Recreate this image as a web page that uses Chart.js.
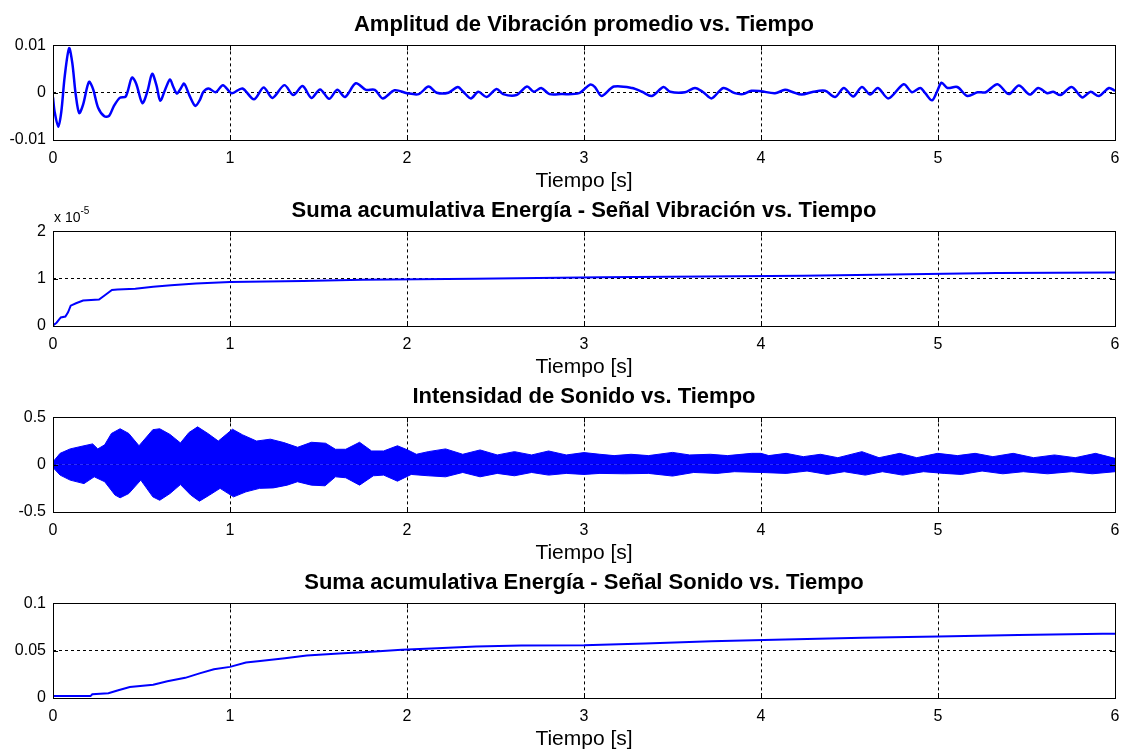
<!DOCTYPE html>
<html>
<head>
<meta charset="utf-8">
<script src="https://cdn.jsdelivr.net/npm/chart.js@4"></script>
<style>
  html, body { margin: 0; padding: 0; background: #fff; overflow: hidden; }
  body { width: 1122px; height: 749px; position: relative; }
  .panel { position: absolute; left: 0; width: 1122px; height: 200px; }
</style>
</head>
<body>
<div class="panel" style="top:0px"><canvas id="chart1" width="1122" height="200"></canvas></div>
<div class="panel" style="top:186px"><canvas id="chart2" width="1122" height="200"></canvas></div>
<div class="panel" style="top:372px"><canvas id="chart3" width="1122" height="200"></canvas></div>
<div class="panel" style="top:558px"><canvas id="chart4" width="1122" height="200"></canvas></div>
<script>
Chart.defaults.font.family = "'Liberation Sans', Arial, sans-serif";
Chart.defaults.color = '#000';

// x axis (all panels)
const xTicks = [0, 1, 2, 3, 4, 5, 6];

// 1 - amplitud de vibracion promedio
const vibTime = [
  0, 0.009, 0.03, 0.047, 0.066, 0.091, 0.109, 0.128, 0.148, 0.17, 0.203, 0.226, 0.255, 0.29, 0.317,
  0.343, 0.377, 0.411, 0.446, 0.47, 0.505, 0.535, 0.56, 0.585, 0.606, 0.635, 0.661, 0.68, 0.70, 0.72,
  0.741, 0.77, 0.804, 0.83, 0.85, 0.879, 0.919, 0.96, 1.01, 1.07, 1.135, 1.19, 1.24, 1.307, 1.358,
  1.41, 1.46, 1.509, 1.56, 1.606, 1.65, 1.711, 1.768, 1.818, 1.863, 1.93, 2.0, 2.066, 2.122, 2.168,
  2.234, 2.287, 2.318, 2.361, 2.403, 2.45, 2.506, 2.543, 2.618, 2.678, 2.717, 2.758, 2.805, 2.87,
  2.972, 3.034, 3.062, 3.099, 3.169, 3.272, 3.328, 3.384, 3.449, 3.487, 3.571, 3.627, 3.674, 3.721,
  3.787, 3.852, 3.899, 3.946, 4.0, 4.079, 4.136, 4.174, 4.23, 4.296, 4.362, 4.419, 4.468, 4.521,
  4.57, 4.617, 4.66, 4.72, 4.806, 4.853, 4.9, 4.928, 4.966, 4.994, 5.02, 5.053, 5.109, 5.166, 5.223,
  5.27, 5.336, 5.4, 5.457, 5.519, 5.566, 5.617, 5.651, 5.692, 5.755, 5.815, 5.862, 5.909, 5.966, 6.0
];
const vibAmp = [
  -0.001, -0.004, -0.0072, -0.004, 0.0034, 0.0094, 0.0063, -0.0003, -0.0043, -0.0025, 0.0023, 0.0008, -0.0032, -0.005, -0.0049,
  -0.0029, -0.0011, -0.0008, 0.0032, 0.0019, -0.0022, 0.0005, 0.004, 0.0015, -0.0017, 0.0008, 0.0028, 0.0012, -0.0002, 0.0008,
  0.0019, -0.0005, -0.0028, -0.0015, 0.0002, 0.0009, 0.0001, 0.0016, -0.0001, 0.0009, -0.0014, 0.0011, -0.0011, 0.0016, -0.0005,
  0.0014, -0.0011, 0.0007, -0.0013, 0.0006, -0.0009, 0.002, 0.0006, 0.0006, -0.0012, 0.0005, -0.0001, -0.0003, 0.0013, 0,
  0, 0.0012, 0.0002, -0.0012, 0.0002, -0.0009, 0.0008, -0.0003, -0.0005, 0.0013, 0.0002, 0.001, -0.0003, -0.0003,
  -0.0001, 0.0017, 0.0012, -0.0007, 0.0013, 0.001, 0.0002, -0.0007, 0.0012, 0.0002, 0.0001, 0.001, 0.0001, -0.0012,
  0.001, -0.0001, -0.0003, 0.0004, 0.0003, -0.0001, 0.0006, 0.0002, -0.0004, 0.0002, 0.0004, -0.0009, 0.001, -0.0008,
  0.0012, -0.0004, 0.001, -0.0012, 0.0018, 0.0001, 0.001, -0.0001, -0.0016, 0.0002, 0.0021, 0.001, 0.0012, -0.0007, 0.0001,
  0.0001, 0.0018, -0.0003, 0.0015, -0.0004, 0.001, -0.0001, 0.0002, -0.0005, 0.0012, -0.001, 0.0002, -0.0007, 0.001, 0.0004
];
const vibTicks = [-0.01, 0, 0.01];

// 2 - suma acumulativa energia, senal vibracion
const vibEnergyTime = [0, 0.02, 0.044, 0.07, 0.085, 0.1, 0.13, 0.17, 0.26, 0.293, 0.333, 0.364, 0.465, 0.566,
  0.667, 0.808, 1.0, 1.414, 1.747, 2.384, 3.097, 4.24, 4.94, 5.33, 6.0];
const vibEnergy = [0.01e-5, 0.07e-5, 0.18e-5, 0.2e-5, 0.29e-5, 0.43e-5, 0.48e-5, 0.54e-5, 0.56e-5, 0.65e-5, 0.76e-5,
  0.77e-5, 0.79e-5, 0.83e-5, 0.86e-5, 0.9e-5, 0.93e-5, 0.95e-5, 0.98e-5, 1.0e-5, 1.03e-5, 1.06e-5, 1.1e-5, 1.12e-5, 1.13e-5];
const vibEnergyTicks = [0, 1e-5, 2e-5];

// 3 - intensidad de sonido (envolvente superior e inferior)
const soundUpperTime = [0, 0.04, 0.097, 0.175, 0.224, 0.253, 0.292, 0.33, 0.379, 0.428, 0.486, 0.564, 0.603, 0.661,
  0.72, 0.768, 0.817, 0.875, 0.934, 1.014, 1.072, 1.15, 1.228, 1.304, 1.382, 1.46, 1.54, 1.596, 1.654, 1.732, 1.8,
  1.868, 1.946, 2.004, 2.053, 2.12, 2.218, 2.315, 2.413, 2.51, 2.607, 2.704, 2.8, 2.9, 3.0, 3.09, 3.17, 3.266, 3.364,
  3.5, 3.597, 3.714, 3.811, 3.947, 4.0, 4.044, 4.142, 4.239, 4.336, 4.434, 4.57, 4.667, 4.784, 4.88, 4.998, 5.11,
  5.21, 5.31, 5.425, 5.54, 5.658, 5.775, 5.89, 6.0];
const soundUpper = [0.03, 0.12, 0.167, 0.2, 0.22, 0.167, 0.21, 0.33, 0.38, 0.33, 0.2, 0.37, 0.38, 0.32,
  0.23, 0.34, 0.4, 0.33, 0.25, 0.375, 0.315, 0.25, 0.27, 0.234, 0.184, 0.237, 0.227, 0.163, 0.163, 0.237, 0.145,
  0.145, 0.2, 0.156, 0.11, 0.138, 0.167, 0.11, 0.156, 0.103, 0.138, 0.103, 0.145, 0.103, 0.128, 0.11, 0.096, 0.11, 0.096,
  0.13, 0.103, 0.11, 0.096, 0.12, 0.12, 0.096, 0.12, 0.085, 0.11, 0.074, 0.138, 0.074, 0.12, 0.074, 0.12, 0.096,
  0.12, 0.085, 0.12, 0.074, 0.103, 0.074, 0.12, 0.067];
const soundLowerTime = [0, 0.04, 0.097, 0.175, 0.233, 0.292, 0.35, 0.379, 0.428, 0.496, 0.564, 0.603, 0.661, 0.72,
  0.778, 0.827, 0.885, 0.944, 1.02, 1.09, 1.167, 1.245, 1.323, 1.381, 1.46, 1.537, 1.596, 1.654, 1.732, 1.81, 1.868,
  1.946, 2.024, 2.12, 2.218, 2.315, 2.413, 2.51, 2.607, 2.704, 2.8, 2.9, 3.0, 3.09, 3.23, 3.364, 3.5, 3.62, 3.75,
  3.85, 4.0, 4.142, 4.26, 4.375, 4.47, 4.589, 4.686, 4.8, 4.918, 5.035, 5.132, 5.249, 5.366, 5.482, 5.619, 5.755,
  5.872, 6.0];
const soundLower = [-0.03, -0.11, -0.163, -0.2, -0.128, -0.18, -0.32, -0.35, -0.305, -0.163, -0.34, -0.376, -0.305, -0.21,
  -0.32, -0.386, -0.32, -0.25, -0.34, -0.287, -0.25, -0.245, -0.216, -0.18, -0.216, -0.223, -0.128, -0.138, -0.216, -0.117, -0.11,
  -0.174, -0.103, -0.117, -0.128, -0.082, -0.128, -0.092, -0.117, -0.082, -0.11, -0.092, -0.103, -0.092, -0.096, -0.092, -0.12, -0.082, -0.092,
  -0.074, -0.082, -0.092, -0.067, -0.103, -0.074, -0.11, -0.074, -0.11, -0.074, -0.092, -0.103, -0.067, -0.096, -0.074, -0.096, -0.074,
  -0.096, -0.074];
const soundTicks = [-0.5, 0, 0.5];

// 4 - suma acumulativa energia, senal sonido
const soundEnergyTime = [0, 0.212, 0.222, 0.313, 0.364, 0.434, 0.566, 0.646, 0.747, 0.828, 0.909, 1.0, 1.09, 1.17,
  1.31, 1.434, 1.616, 1.798, 1.97, 2.17, 2.39, 2.646, 3.0, 3.345, 3.72, 4.136, 4.572, 5.0, 5.454, 5.93, 6.0];
const soundEnergy = [0.002, 0.002, 0.004, 0.005, 0.008, 0.0116, 0.014, 0.0177, 0.0213, 0.026, 0.0303, 0.0329, 0.0375, 0.039,
  0.042, 0.0448, 0.047, 0.049, 0.051, 0.0527, 0.0545, 0.0555, 0.0558, 0.0576, 0.06, 0.0618, 0.0636, 0.065, 0.0665, 0.068, 0.068];
const soundEnergyTicks = [0, 0.05, 0.1];

const BLUE = '#0000ff';

function points(xs, ys) {
  return xs.map((x, i) => ({ x: x, y: ys[i] }));
}

// caja estilo matlab: borde, marcas hacia dentro y exponente del eje y
const matlabBox = {
  id: 'matlabBox',
  afterDraw(chart, args, opts) {
    const { ctx, chartArea: a, scales } = chart;
    ctx.save();
    ctx.strokeStyle = '#000';
    ctx.lineWidth = 1;
    ctx.beginPath();
    scales.x.ticks.forEach(t => {
      const px = Math.round(scales.x.getPixelForValue(t.value)) + 0.5;
      ctx.moveTo(px, a.bottom); ctx.lineTo(px, a.bottom - 5);
      ctx.moveTo(px, a.top); ctx.lineTo(px, a.top + 5);
    });
    scales.y.ticks.forEach(t => {
      const py = Math.round(scales.y.getPixelForValue(t.value)) + 0.5;
      ctx.moveTo(a.left, py); ctx.lineTo(a.left + 5, py);
      ctx.moveTo(a.right, py); ctx.lineTo(a.right - 5, py);
    });
    ctx.stroke();
    ctx.strokeRect(Math.round(a.left) + 0.5, Math.round(a.top) + 0.5, Math.round(a.width), Math.round(a.height));
    if (opts.exponent) {
      ctx.fillStyle = '#000';
      ctx.textBaseline = 'alphabetic';
      ctx.textAlign = 'left';
      ctx.font = "14px 'Liberation Sans', Arial, sans-serif";
      const base = 'x 10';
      ctx.fillText(base, a.left + 1, a.top - 9);
      const w = ctx.measureText(base).width;
      ctx.font = "10px 'Liberation Sans', Arial, sans-serif";
      ctx.fillText(opts.exponent, a.left + 1 + w, a.top - 17);
    }
    ctx.restore();
  }
};

function gridColor(c) {
  const s = c.scale;
  const eps = (s.max - s.min) * 1e-6;
  if (Math.abs(c.tick.value - s.min) < eps || Math.abs(c.tick.value - s.max) < eps) return 'rgba(0,0,0,0)';
  return '#000';
}

function makeChart(id, title, datasets, yTicks, yFormat, exponent) {
  const ctx = document.getElementById(id).getContext('2d');
  return new Chart(ctx, {
    type: 'line',
    data: { datasets: datasets },
    plugins: [matlabBox],
    options: {
      responsive: false,
      animation: false,
      layout: { padding: { left: 0, right: 2, top: 0, bottom: 6 } },
      elements: { point: { radius: 0 }, line: { tension: 0 } },
      scales: {
        x: {
          type: 'linear',
          min: xTicks[0],
          max: xTicks[xTicks.length - 1],
          afterBuildTicks: (scale) => { scale.ticks = xTicks.map(v => ({ value: v })); },
          afterFit: (scale) => { scale.height = 54; scale.paddingRight = 7; },
          ticks: { font: { size: 16 }, padding: 9, maxRotation: 0, callback: v => String(v) },
          grid: { color: gridColor, lineWidth: 1, drawTicks: false },
          border: { display: false, dash: [3, 3] },
          title: { display: true, text: 'Tiempo [s]', font: { size: 21 }, padding: { top: 0, bottom: 0 } }
        },
        y: {
          min: yTicks[0],
          max: yTicks[yTicks.length - 1],
          afterBuildTicks: (scale) => { scale.ticks = yTicks.map(v => ({ value: v })); },
          afterFit: (scale) => { scale.width = 53; },
          ticks: { font: { size: 16 }, padding: 7, callback: yFormat },
          grid: { color: gridColor, lineWidth: 1, drawTicks: false },
          border: { display: false, dash: [3, 3] }
        }
      },
      plugins: {
        legend: { display: false },
        tooltip: { enabled: false },
        matlabBox: { exponent: exponent },
        title: {
          display: true,
          fullSize: false,
          text: title,
          color: '#000',
          font: { size: 22, weight: 'bold' },
          padding: { top: 12, bottom: 7 }
        }
      }
    }
  });
}

const fmt = v => String(Number(v.toFixed(6)));

const chart1 = makeChart('chart1', 'Amplitud de Vibración promedio vs. Tiempo', [{
  data: points(vibTime, vibAmp),
  borderColor: BLUE,
  borderWidth: 2.5,
  tension: 0.3,
  fill: false
}], vibTicks, fmt);

const chart2 = makeChart('chart2', 'Suma acumulativa Energía - Señal Vibración vs. Tiempo', [{
  data: points(vibEnergyTime, vibEnergy),
  borderColor: BLUE,
  borderWidth: 2,
  fill: false
}], vibEnergyTicks, v => String(Math.round(v / 1e-5)), '-5');

const chart3 = makeChart('chart3', 'Intensidad de Sonido vs. Tiempo', [{
  data: points(soundUpperTime, soundUpper),
  borderColor: BLUE,
  backgroundColor: BLUE,
  borderWidth: 1,
  fill: 'origin'
}, {
  data: points(soundLowerTime, soundLower),
  borderColor: BLUE,
  backgroundColor: BLUE,
  borderWidth: 1,
  fill: 'origin'
}], soundTicks, fmt);

const chart4 = makeChart('chart4', 'Suma acumulativa Energía - Señal Sonido vs. Tiempo', [{
  data: points(soundEnergyTime, soundEnergy),
  borderColor: BLUE,
  borderWidth: 2,
  fill: false
}], soundEnergyTicks, fmt);
</script>
</body>
</html>
